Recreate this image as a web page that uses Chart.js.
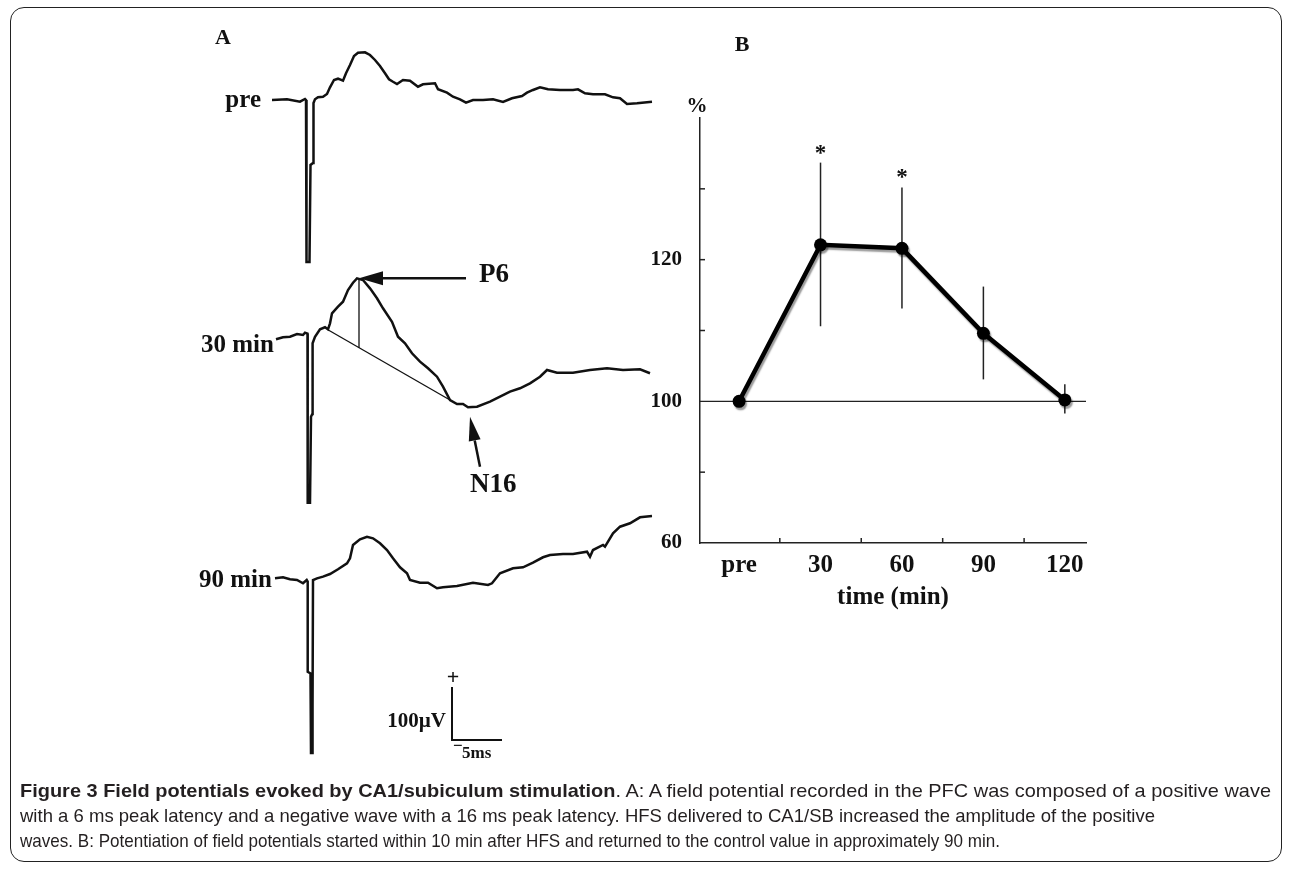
<!DOCTYPE html>
<html>
<head>
<meta charset="utf-8">
<script src="https://cdn.jsdelivr.net/npm/chart.js@4.4.0/dist/chart.umd.min.js"></script>
<style>
body { margin: 0; background: #fff; width: 1290px; height: 869px; position: relative; overflow: hidden; }
#frame { position: absolute; left: 10px; top: 7px; width: 1272px; height: 855px; border: 1.5px solid #222; border-radius: 14px; box-sizing: border-box; }
canvas { position: absolute; left: 0; top: 0; }
.cap { position: absolute; left: 20px; font-family: "Liberation Sans Narrow", "Liberation Sans", sans-serif; font-size: 19px; line-height: 19px; color: #231f20; white-space: nowrap; transform-origin: 0 50%; }
</style>
</head>
<body>
<div id="frame"></div>
<canvas id="chartB" width="1290" height="869"></canvas>
<canvas id="chartA" width="1290" height="869"></canvas>
<div class="cap" style="top:781px"><b>Figure 3 Field potentials evoked by CA1/subiculum stimulation</b>. A: A field potential recorded in the PFC was composed of a positive wave</div>
<div class="cap" style="top:806px">with a 6 ms peak latency and a negative wave with a 16 ms peak latency. HFS delivered to CA1/SB increased the amplitude of the positive</div>
<div class="cap" style="top:831px">waves. B: Potentiation of field potentials started within 10 min after HFS and returned to the control value in approximately 90 min.</div>
<script>
'use strict';

// ---- panel A : field potential traces, [time (ms), amplitude (µV)]
var tracePre = [
  [-3.3, 0], [-1.8, 1.3], [-0.5, -3.2], [0, 1.9], [0.1, 0],
  [0.15, -305.7], [0.45, -305.7], [0.55, -122.6], [0.8, -118.9], [0.85, -5.7],
  [1.0, 1.3], [1.3, 5.1], [1.8, 6.2], [2.2, 11.3], [2.5, 24], [2.9, 37.7], [3.3, 40.2], [3.8, 36.4],
  [4.1, 50.4], [4.5, 66], [4.9, 83], [5.3, 89.2], [6.0, 90], [6.5, 84.9], [7.0, 75.5], [7.5, 64.2],
  [8.0, 50.4], [8.4, 39.1], [8.8, 34.5], [9.2, 30.2], [9.8, 37.7], [10.5, 36.4], [11.3, 25.1],
  [11.8, 29.6], [13.0, 31.5], [13.3, 20.2], [14.2, 13.8], [14.8, 6.2], [15.5, 1.3], [16.1, -5.1],
  [16.8, 0], [17.8, 0], [18.8, 1.3], [19.8, -3.8], [20.7, 3.2], [21.7, 7.5], [22.2, 13.8],
  [22.8, 18.9], [23.5, 24], [24.3, 20.2], [25.5, 18.9], [26.8, 18.9], [27.3, 20.2], [28.0, 12.6],
  [28.8, 10.8], [30.0, 10.8], [30.8, 5.1], [31.5, 3.2], [32.2, -7.5], [33.2, -6.2], [34.7, -3.2]
];
var trace30 = [
  [-2.9, 1.3], [-2.2, 5.1], [-1.5, 6.2], [-0.8, 11.3], [-0.2, 9.4], [0, 13.8], [0.25, 12],
  [0.27, -307], [0.5, -307], [0.6, -144.7], [0.73, -139.6], [0.76, -6.2],
  [1.0, 6.2], [1.5, 20.2], [2.0, 24], [2.3, 20.2], [2.5, 31.5], [2.7, 50.4], [3.3, 62.8], [3.8, 72.3],
  [4.3, 94.3], [4.8, 108.1], [5.2, 116.4], [5.8, 113.2], [6.5, 97.5], [7.2, 78.7], [7.8, 59.8],
  [8.7, 34.5], [9.3, 6.2], [10.0, -6.2], [10.7, -25.1], [11.5, -40.9], [12.3, -53.4], [13.2, -69.2],
  [13.8, -88.1], [14.5, -113.2], [15.2, -120.8], [15.8, -120.8], [16.3, -127], [17.2, -125.8],
  [18.5, -116.4], [19.5, -107], [20.5, -97.5], [21.5, -91.1], [22.5, -81.7], [23.5, -69.2],
  [24.2, -56.6], [25.2, -61.7], [26.8, -61.7], [28.5, -56.6], [30.2, -53.4], [31.8, -56.6],
  [33.5, -55.3], [34.5, -62.8]
];
var trace90 = [
  [-3.0, -0.6], [-2.2, 1.3], [-1.5, -2.5], [-0.8, -3.8], [-0.2, -10], [0.17, -3.8], [0.27, -7],
  [0.27, -177], [0.55, -180], [0.6, -330.2], [0.7, -330.2], [0.73, -240], [0.78, -240], [0.8, -4],
  [1.2, -0.6], [1.8, 2.5], [2.5, 7.5], [3.3, 16.4], [4.2, 27.7], [4.5, 37.2], [4.8, 62.3], [5.5, 73],
  [6.2, 77.9], [6.8, 74.9], [7.5, 65.5], [8.2, 52.8], [8.8, 37.2], [9.5, 20.2], [10.2, 8.9],
  [10.5, -3.8], [11.5, -8.9], [12.3, -8.9], [13.2, -19.4], [13.8, -17.5], [15.2, -15.1], [16.8, -8.9],
  [18.3, -13.2], [18.7, -10], [19.5, 8.9], [20.8, 18.3], [21.8, 20.2], [22.8, 28.9], [23.8, 39.1],
  [24.5, 43.4], [25.8, 45.3], [26.8, 45.3], [28.2, 49.6], [28.5, 40.2], [28.8, 52.8], [29.8, 62.3],
  [30.0, 59.1], [30.8, 84.3], [31.5, 96.8], [32.5, 103.2], [33.5, 114.5], [34.7, 117]
];
// measurement lines on the 30 min trace
var onsetToN16 = [[2.2, 20.2], [14.5, -113.2]];
var p6Height = [[5.4, 116.4], [5.4, -14.7]];
var p6Peak = [5.3, 116.4];
var n16Mark = [16.5, -145];
var scaleBarAmp = 100; // µV
var scaleBarTime = 5;  // ms

// ---- panel B : amplitude (% of pre)
var categories = ['pre', '30', '60', '90', '120'];
var meanAmp = [100, 122.1, 121.6, 109.6, 100.2];
var errTop = [null, 133.7, 130.2, 116.2, 102.4];
var errBottom = [null, 110.6, 113.1, 103.1, 98.3];
var significant = [false, true, true, false, false];
var yTickValues = [80, 100, 120];
var yTickLabels = ['60', '100', '120'];
var yMinorTicks = [90, 110, 120, 130];
var xMinorTicks = [0.5, 1.5, 2.5, 3.5];
var controlLevel = 100;

var SERIF = '"Liberation Serif", "Times New Roman", serif';

function toPoints(arr) {
  return arr.map(function(p) { return {x: p[0], y: p[1]}; });
}

// vertical axis for one trace: plot area is 700px high, 0.53 px per µV
function traceAxis(zeroFromTop) {
  var pxPerUV = 0.53, h = 700;
  var max = zeroFromTop / pxPerUV;
  return {type: 'linear', display: false, min: max - h / pxPerUV, max: max};
}

function arrow(ctx, x1, y1, x2, y2, headLen, headHalf) {
  var a = Math.atan2(y2 - y1, x2 - x1);
  var bx = x2 - headLen * Math.cos(a), by = y2 - headLen * Math.sin(a);
  ctx.lineWidth = 2.5;
  ctx.beginPath(); ctx.moveTo(x1, y1); ctx.lineTo(bx, by); ctx.stroke();
  ctx.beginPath();
  ctx.moveTo(x2, y2);
  ctx.lineTo(bx + headHalf * Math.sin(a), by - headHalf * Math.cos(a));
  ctx.lineTo(bx - headHalf * Math.sin(a), by + headHalf * Math.cos(a));
  ctx.closePath(); ctx.fill();
}

var panelAExtras = {
  id: 'panelAExtras',
  afterDraw: function(chart) {
    var ctx = chart.ctx;
    var x = chart.scales.x, y30 = chart.scales.y30, y90 = chart.scales.y90;
    ctx.save();
    ctx.fillStyle = '#111';
    ctx.strokeStyle = '#111';
    ctx.textBaseline = 'alphabetic';
    ctx.font = 'bold 25px ' + SERIF;
    ctx.textAlign = 'right';
    ctx.fillText('pre', 261, 107);
    ctx.textAlign = 'left';
    ctx.fillText('30 min', 201, 352);
    ctx.fillText('90 min', 199, 587);
    ctx.font = 'bold 22px ' + SERIF;
    ctx.fillText('A', 215, 44);

    // P6 arrow
    var px = x.getPixelForValue(p6Peak[0]), py = y30.getPixelForValue(p6Peak[1]);
    arrow(ctx, px + 108, py, px + 1, py, 24, 7);
    ctx.font = 'bold 27px ' + SERIF;
    ctx.fillText('P6', px + 121, py + 4);

    // N16 arrow
    var nx = x.getPixelForValue(n16Mark[0]), ny = y30.getPixelForValue(n16Mark[1]);
    arrow(ctx, nx + 10, ny + 50, nx, ny, 24, 6);
    ctx.fillText('N16', nx, ny + 75);

    // scale bar
    var sx = x.getPixelForValue(14.7), sy = y90.getPixelForValue(-305.7);
    var top = y90.getPixelForValue(-305.7 + scaleBarAmp);
    var right = x.getPixelForValue(14.7 + scaleBarTime);
    ctx.lineWidth = 2;
    ctx.beginPath();
    ctx.moveTo(sx, top); ctx.lineTo(sx, sy); ctx.lineTo(right, sy);
    ctx.stroke();
    ctx.font = 'bold 22px ' + SERIF;
    ctx.textAlign = 'center';
    ctx.fillText('+', sx + 1, top - 3);
    ctx.font = 'bold 21px ' + SERIF;
    ctx.textAlign = 'right';
    ctx.fillText(scaleBarAmp + 'µV', sx - 6, sy - 13);
    ctx.font = 'bold 17px ' + SERIF;
    ctx.textAlign = 'left';
    ctx.fillText('−', sx + 1, sy + 11);
    ctx.fillText(scaleBarTime + 'ms', sx + 10, sy + 18);
    ctx.restore();
  }
};

var traceStyle = {borderColor: '#111', borderWidth: 2.5, pointRadius: 0, tension: 0, fill: false, clip: false};

new Chart(document.getElementById('chartA'), {
  type: 'line',
  data: {
    datasets: [
      Object.assign({label: 'pre', data: toPoints(tracePre), yAxisID: 'yPre'}, traceStyle),
      Object.assign({label: '30 min', data: toPoints(trace30), yAxisID: 'y30'}, traceStyle),
      Object.assign({label: '90 min', data: toPoints(trace90), yAxisID: 'y90'}, traceStyle),
      {label: 'baseline', data: toPoints(onsetToN16), yAxisID: 'y30', borderColor: '#111', borderWidth: 1.3, pointRadius: 0, clip: false},
      {label: 'P6 height', data: toPoints(p6Height), yAxisID: 'y30', borderColor: '#111', borderWidth: 1.3, pointRadius: 0, clip: false}
    ]
  },
  options: {
    responsive: false,
    animation: false,
    events: [],
    layout: {padding: {left: 265, right: 625, top: 60, bottom: 109}},
    plugins: {legend: {display: false}, tooltip: {enabled: false}},
    scales: {
      x: {type: 'linear', display: false, min: -4, max: 36},
      yPre: traceAxis(40),
      y30: traceAxis(280),
      y90: traceAxis(518)
    }
  },
  plugins: [panelAExtras]
});

var panelBExtras = {
  id: 'panelBExtras',
  beforeDatasetsDraw: function(chart) {
    var ctx = chart.ctx, x = chart.scales.x, y = chart.scales.y;
    ctx.save();
    ctx.strokeStyle = '#222';
    ctx.lineWidth = 1.5;
    meanAmp.forEach(function(v, i) {
      if (errTop[i] === null) return;
      var px = x.getPixelForValue(i);
      ctx.beginPath();
      ctx.moveTo(px, y.getPixelForValue(errTop[i]));
      ctx.lineTo(px, y.getPixelForValue(errBottom[i]));
      ctx.stroke();
    });
    ctx.restore();
  },
  beforeDatasetDraw: function(chart, args) {
    if (args.index !== 0) return;
    var ctx = chart.ctx;
    ctx.save();
    ctx.shadowColor = 'rgba(0,0,0,0.4)';
    ctx.shadowOffsetX = 1.5;
    ctx.shadowOffsetY = 2.5;
    ctx.shadowBlur = 1.5;
  },
  afterDatasetDraw: function(chart, args) {
    if (args.index === 0) chart.ctx.restore();
  },
  afterDraw: function(chart) {
    var ctx = chart.ctx, x = chart.scales.x, y = chart.scales.y, area = chart.chartArea;
    ctx.save();
    ctx.strokeStyle = '#222';
    ctx.lineWidth = 1.5;
    yMinorTicks.forEach(function(v) {
      var py = y.getPixelForValue(v);
      ctx.beginPath(); ctx.moveTo(area.left, py); ctx.lineTo(area.left + 5, py); ctx.stroke();
    });
    xMinorTicks.forEach(function(v) {
      var px = x.getPixelForValue(v);
      ctx.beginPath(); ctx.moveTo(px, area.bottom); ctx.lineTo(px, area.bottom - 5); ctx.stroke();
    });
    ctx.fillStyle = '#111';
    ctx.textAlign = 'center';
    ctx.textBaseline = 'alphabetic';
    ctx.font = 'bold 23px ' + SERIF;
    significant.forEach(function(s, i) {
      if (!s) return;
      ctx.fillText('*', x.getPixelForValue(i), y.getPixelForValue(errTop[i]) - 3);
    });
    ctx.font = 'bold 21px ' + SERIF;
    ctx.fillText('%', area.left - 3, area.top - 6);
    ctx.font = 'bold 22px ' + SERIF;
    ctx.fillText('B', 742, 51);
    ctx.restore();
  }
};

new Chart(document.getElementById('chartB'), {
  type: 'line',
  data: {
    datasets: [
      {
        label: 'amplitude',
        data: meanAmp.map(function(v, i) { return {x: i, y: v}; }),
        borderColor: '#000',
        borderWidth: 4.5,
        pointRadius: 6.5,
        pointBackgroundColor: '#000',
        pointBorderColor: '#000',
        pointBorderWidth: 0,
        tension: 0,
        clip: false
      },
      {
        label: 'control',
        data: [{x: -0.48, y: controlLevel}, {x: 4.26, y: controlLevel}],
        borderColor: '#222',
        borderWidth: 1.3,
        pointRadius: 0
      }
    ]
  },
  options: {
    responsive: false,
    animation: false,
    events: [],
    layout: {padding: {left: 600, right: 204, top: 118, bottom: 229}},
    plugins: {legend: {display: false}, tooltip: {enabled: false}},
    scales: {
      x: {
        type: 'linear',
        min: -0.48,
        max: 4.26,
        afterFit: function(s) { s.height = 97; },
        afterBuildTicks: function(s) {
          s.ticks = categories.map(function(c, i) { return {value: i}; });
        },
        ticks: {
          autoSkip: false,
          maxRotation: 0,
          padding: 8,
          color: '#111',
          font: {family: SERIF, weight: 'bold', size: 25},
          callback: function(v) { return categories[v]; }
        },
        grid: {display: false, drawTicks: false},
        border: {display: true, color: '#222', width: 1.5},
        title: {
          display: true,
          text: 'time (min)',
          color: '#111',
          font: {family: SERIF, weight: 'bold', size: 25},
          padding: {top: 0, bottom: 27}
        }
      },
      y: {
        type: 'linear',
        min: 80,
        max: 140,
        afterFit: function(s) { s.width = 100; },
        afterBuildTicks: function(s) {
          s.ticks = yTickValues.map(function(v) { return {value: v}; });
        },
        ticks: {
          padding: 18,
          color: '#111',
          font: {family: SERIF, weight: 'bold', size: 21},
          callback: function(v) { return yTickLabels[yTickValues.indexOf(v)]; }
        },
        grid: {display: false, drawTicks: false},
        border: {display: true, color: '#222', width: 1.5}
      }
    }
  },
  plugins: [panelBExtras]
});

// fit the caption lines to the printed widths
var capWidths = [1251, 1135, 980];
function fitCaption() {
  document.querySelectorAll('.cap').forEach(function(el, i) {
    el.style.transform = 'none';
    var w = el.getBoundingClientRect().width;
    el.style.transform = 'scaleX(' + (capWidths[i] / w) + ')';
  });
}
fitCaption();
document.fonts.ready.then(fitCaption);
</script>
</body>
</html>
